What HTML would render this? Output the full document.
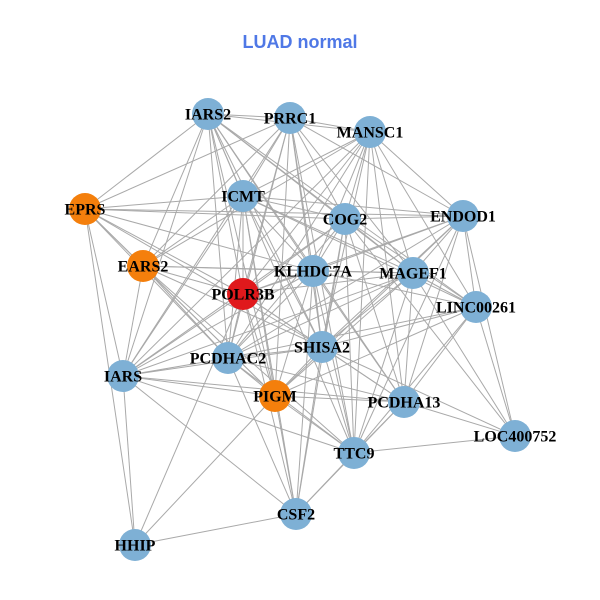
<!DOCTYPE html>
<html><head><meta charset="utf-8"><style>
html,body{margin:0;padding:0;background:#fff;width:600px;height:600px;overflow:hidden}
svg{display:block}
</style></head><body>
<svg id="g" width="600" height="600" xmlns="http://www.w3.org/2000/svg">
<rect width="600" height="600" fill="#fff"/>
<text x="300" y="48" text-anchor="middle" font-family="Liberation Sans, sans-serif" font-weight="bold" font-size="18" fill="#4f78e6">LUAD normal</text>
<g id="edges" stroke="#a9a9a9" stroke-width="1"></g>
<g id="nodes"></g>
</svg>
<script>
var N={IARS2:[208,114],PRRC1:[290,118],MANSC1:[370,132],EPRS:[85,209],ICMT:[243,196],COG2:[345,219],ENDOD1:[463,216],EARS2:[143,266],KLHDC7A:[313,271],MAGEF1:[413,273],POLR3B:[243,294],LINC00261:[476,307],SHISA2:[322,347],PCDHAC2:[228,358],IARS:[123,376],PIGM:[275,396],PCDHA13:[404,402],LOC400752:[515,436],TTC9:[354,453],CSF2:[296,514],HHIP:[135,545]};
var col={EPRS:"#f47f0c",EARS2:"#f47f0c",PIGM:"#f47f0c",POLR3B:"#e0191c"};
var E={
IARS2:"PRRC1 MANSC1 EPRS ICMT COG2 KLHDC7A POLR3B SHISA2 PCDHAC2 IARS PIGM PCDHA13 TTC9 EARS2 MAGEF1 LINC00261",
PRRC1:"MANSC1 EPRS ICMT COG2 ENDOD1 KLHDC7A EARS2 POLR3B SHISA2 PCDHAC2 IARS PIGM TTC9 MAGEF1",
MANSC1:"ICMT COG2 ENDOD1 KLHDC7A MAGEF1 EARS2 POLR3B SHISA2 PCDHAC2 IARS PCDHA13 LINC00261 TTC9",
EPRS:"ICMT COG2 ENDOD1 EARS2 POLR3B IARS HHIP PCDHAC2 KLHDC7A SHISA2 PIGM",
ICMT:"COG2 ENDOD1 EARS2 KLHDC7A MAGEF1 LINC00261 POLR3B SHISA2 PCDHAC2 PIGM CSF2 IARS",
COG2:"ENDOD1 KLHDC7A MAGEF1 LINC00261 POLR3B SHISA2 PCDHAC2 IARS PCDHA13 LOC400752 TTC9 CSF2",
ENDOD1:"MAGEF1 LINC00261 KLHDC7A SHISA2 PCDHAC2 PIGM LOC400752 PCDHA13 TTC9 POLR3B",
EARS2:"KLHDC7A POLR3B PCDHAC2 IARS SHISA2 PIGM MAGEF1 TTC9",
KLHDC7A:"MAGEF1 LINC00261 POLR3B SHISA2 PCDHAC2 IARS PIGM PCDHA13 TTC9 CSF2",
MAGEF1:"LINC00261 SHISA2 PCDHAC2 PIGM PCDHA13 LOC400752 TTC9 POLR3B IARS",
LINC00261:"SHISA2 PCDHA13 LOC400752 PIGM TTC9 PCDHAC2",
POLR3B:"SHISA2 PCDHAC2 IARS PIGM PCDHA13 CSF2 HHIP",
SHISA2:"PCDHAC2 IARS PIGM PCDHA13 TTC9 CSF2 LOC400752",
PCDHAC2:"IARS PIGM PCDHA13 TTC9 CSF2",
IARS:"PIGM TTC9 CSF2 HHIP PCDHA13",
PIGM:"PCDHA13 TTC9 CSF2 HHIP",
PCDHA13:"LOC400752 TTC9 CSF2",
LOC400752:"TTC9",TTC9:"CSF2",CSF2:"HHIP"};
var ns="http://www.w3.org/2000/svg",eg=document.getElementById("edges"),ng=document.getElementById("nodes");
for(var a in E){E[a].split(" ").forEach(function(b){var l=document.createElementNS(ns,"line");l.setAttribute("x1",N[a][0]);l.setAttribute("y1",N[a][1]);l.setAttribute("x2",N[b][0]);l.setAttribute("y2",N[b][1]);eg.appendChild(l);});}
for(var k in N){var c=document.createElementNS(ns,"circle");c.setAttribute("cx",N[k][0]);c.setAttribute("cy",N[k][1]);c.setAttribute("r",16);c.setAttribute("fill",col[k]||"#7eb0d5");ng.appendChild(c);}
for(var k in N){var t=document.createElementNS(ns,"text");t.setAttribute("x",N[k][0]);t.setAttribute("y",N[k][1]+5.5);t.setAttribute("text-anchor","middle");t.setAttribute("font-family","Liberation Serif, serif");t.setAttribute("font-weight","bold");t.setAttribute("font-size","16");t.textContent=k;ng.appendChild(t);}
</script>
</body></html>
